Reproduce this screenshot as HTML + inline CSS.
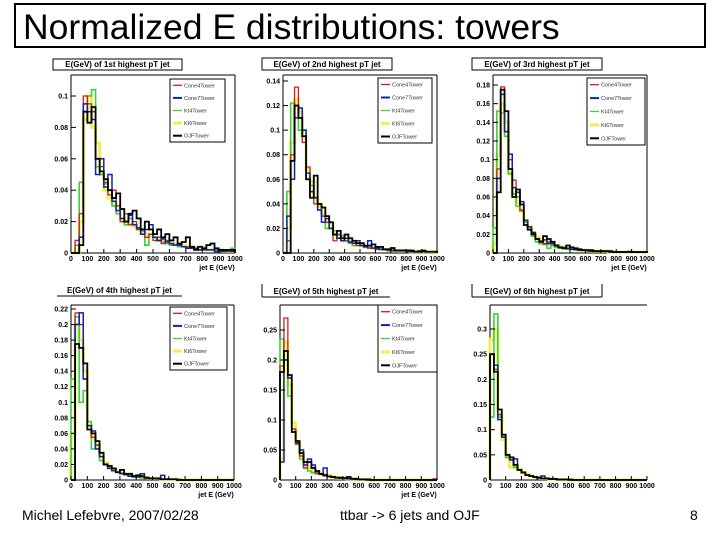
<!DOCTYPE html>
<html><head><meta charset="utf-8">
<style>
body{margin:0;background:#fff;}
#wrap{position:relative;width:720px;height:540px;overflow:hidden;font-family:"Liberation Sans",Arial,sans-serif;}
.foot{position:absolute;font-size:14px;color:#000;}
</style></head>
<body>
<div id="wrap">
<div style="position:absolute;left:14px;top:3px;width:692px;height:45px;border:2px solid #000;font-size:35.5px;line-height:45px;padding-left:7px;box-sizing:border-box;white-space:nowrap;">Normalized E distributions: towers</div>
<svg id="charts" width="720" height="540" style="position:absolute;left:0;top:0"></svg>
<div class="foot" style="left:22px;top:507px;">Michel Lefebvre, 2007/02/28</div>
<div class="foot" style="left:340px;top:507px;">ttbar -&gt; 6 jets and OJF</div>
<div class="foot" style="left:690px;top:507px;">8</div>
</div>
<script>
const seriesNames = ["Cone4Tower","Cone7Tower","Kt4Tower","Kt6Tower","OJFTower"];
const panelTitles = ["E(GeV) of 1st highest pT jet","E(GeV) of 2nd highest pT jet","E(GeV) of 3rd highest pT jet","E(GeV) of 4th highest pT jet","E(GeV) of 5th highest pT jet","E(GeV) of 6th highest pT jet"];
const xTickLabels = [0,100,200,300,400,500,600,700,800,900,1000];
const binWidthGeV = 25;
const yTicks1 = [0,0.02,0.04,0.06,0.08,0.1];
const yTicks2 = [0,0.02,0.04,0.06,0.08,0.1,0.12,0.14];
const yTicks3 = [0,0.02,0.04,0.06,0.08,0.1,0.12,0.14,0.16,0.18];
const yTicks4 = [0,0.02,0.04,0.06,0.08,0.1,0.12,0.14,0.16,0.18,0.2,0.22];
const yTicks5 = [0,0.05,0.1,0.15,0.2,0.25];
const yTicks6 = [0,0.05,0.1,0.15,0.2,0.25,0.3];

const p1Red=[0,0.008,0.025,0.1,0.095,0.09,0.06,0.055,0.045,0.037,0.04,0.03,0.02,0.025,0.018,0.02,0.015,0.012,0.01,0.012,0.008,0.01,0.006,0.008,0.006,0.005,0.005,0.004,0.004,0.003,0.003,0.002,0.002,0.002,0.002,0.001,0.001,0.001,0.001,0.001];
const p1Blue=[0,0,0.01,0.095,0.09,0.085,0.05,0.06,0.042,0.05,0.033,0.027,0.022,0.02,0.024,0.018,0.016,0.012,0.015,0.018,0.01,0.008,0.009,0.007,0.006,0.005,0.005,0.004,0.003,0.003,0.003,0.002,0.002,0.002,0.002,0.001,0.001,0.001,0.002,0.001];
const p1Green=[0,0.005,0.045,0.095,0.1,0.104,0.055,0.05,0.044,0.04,0.03,0.025,0.02,0.018,0.022,0.018,0.016,0.014,0.005,0.012,0.01,0.008,0.007,0.006,0.005,0.005,0.004,0.004,0.003,0.003,0.003,0.002,0.002,0.002,0.002,0.002,0.001,0.001,0.001,0.003];
const p1Yellow=[0,0,0.02,0.085,0.1,0.08,0.07,0.05,0.04,0.035,0.032,0.03,0.022,0.02,0.018,0.017,0.015,0.013,0.012,0.011,0.01,0.008,0.008,0.007,0.006,0.006,0.005,0.005,0.004,0.004,0.003,0.003,0.003,0.002,0.002,0.002,0.002,0.001,0.001,0.001];
const p1Black=[0,0,0.005,0.09,0.083,0.093,0.06,0.052,0.047,0.04,0.035,0.038,0.028,0.02,0.025,0.027,0.022,0.015,0.02,0.015,0.012,0.015,0.01,0.012,0.008,0.01,0.006,0.007,0.01,0.004,0.002,0.004,0.003,0.005,0.006,0.003,0.002,0.002,0.002,0.002];

const p2Red=[0,0.01,0.08,0.135,0.11,0.09,0.07,0.05,0.04,0.035,0.03,0.025,0.02,0.01,0.015,0.012,0.01,0.009,0.008,0.006,0.006,0.005,0.004,0.004,0.003,0.003,0.003,0.002,0.002,0.002,0.002,0.002,0.001,0.001,0.001,0.002,0.001,0.001,0.001,0.001];
const p2Blue=[0,0.03,0.06,0.11,0.118,0.1,0.065,0.05,0.045,0.035,0.025,0.028,0.02,0.015,0.012,0.01,0.012,0.009,0.008,0.01,0.006,0.005,0.01,0.004,0.004,0.003,0.003,0.003,0.002,0.002,0.002,0.002,0.002,0.001,0.001,0.001,0.001,0.001,0.001,0.001];
const p2Green=[0,0.05,0.122,0.12,0.1,0.1,0.06,0.055,0.045,0.04,0.03,0.02,0.025,0.018,0.012,0.014,0.01,0.008,0.006,0.008,0.006,0.005,0.004,0.004,0.003,0.003,0.003,0.002,0.002,0.002,0.002,0.002,0.001,0.001,0.001,0.001,0.001,0.001,0.001,0.001];
const p2Yellow=[0,0.02,0.09,0.125,0.115,0.095,0.068,0.058,0.045,0.038,0.032,0.025,0.02,0.016,0.013,0.012,0.01,0.009,0.008,0.007,0.006,0.005,0.005,0.004,0.004,0.003,0.003,0.003,0.002,0.002,0.002,0.002,0.002,0.001,0.001,0.001,0.001,0.001,0.001,0.001];
const p2Black=[0,0,0.075,0.12,0.11,0.095,0.06,0.045,0.063,0.04,0.037,0.03,0.025,0.015,0.018,0.012,0.015,0.012,0.01,0.008,0.008,0.006,0.006,0.007,0.005,0.005,0.003,0.003,0.004,0.002,0.002,0.002,0.002,0.002,0.001,0.001,0.002,0.001,0.001,0.001];

const p3Red=[0,0.09,0.178,0.13,0.1,0.078,0.06,0.046,0.035,0.025,0.02,0.015,0.013,0.01,0.012,0.01,0.008,0.006,0.006,0.005,0.004,0.004,0.003,0.003,0.003,0.002,0.002,0.002,0.002,0.002,0.001,0.001,0.001,0.001,0.001,0.001,0.001,0.001,0.001,0.001];
const p3Blue=[0,0.08,0.17,0.13,0.106,0.07,0.065,0.055,0.035,0.028,0.022,0.015,0.012,0.014,0.01,0.01,0.008,0.006,0.005,0.005,0.004,0.004,0.003,0.003,0.003,0.002,0.002,0.002,0.002,0.002,0.001,0.001,0.001,0.001,0.001,0.001,0.001,0.001,0.001,0.001];
const p3Green=[0.027,0.152,0.15,0.125,0.085,0.063,0.05,0.045,0.033,0.025,0.018,0.012,0.01,0.009,0.005,0.008,0.006,0.005,0.005,0.004,0.004,0.003,0.003,0.003,0.002,0.002,0.002,0.002,0.002,0.002,0.002,0.001,0.001,0.001,0.001,0.002,0.001,0.001,0.001,0.001];
const p3Yellow=[0.01,0.105,0.16,0.14,0.085,0.065,0.055,0.045,0.035,0.028,0.022,0.017,0.013,0.012,0.01,0.009,0.008,0.007,0.006,0.005,0.004,0.004,0.003,0.003,0.003,0.002,0.002,0.002,0.002,0.002,0.001,0.001,0.001,0.001,0.001,0.001,0.001,0.001,0.001,0.001];
const p3Black=[0,0.065,0.175,0.152,0.09,0.06,0.068,0.052,0.03,0.025,0.02,0.015,0.012,0.018,0.015,0.012,0.008,0.006,0.005,0.008,0.006,0.005,0.004,0.003,0.003,0.003,0.002,0.002,0.002,0.002,0.002,0.001,0.001,0.001,0.001,0.001,0.001,0.001,0.001,0.001];

const p4Red=[0,0.215,0.2,0.13,0.07,0.055,0.045,0.035,0.02,0.015,0.012,0.01,0.008,0.007,0.005,0.004,0.004,0.005,0.003,0.002,0.002,0.002,0.001,0.001,0.001,0.001,0.001,0,0,0,0,0,0,0,0,0,0,0,0,0];
const p4Blue=[0,0.2,0.215,0.13,0.07,0.063,0.04,0.03,0.02,0.015,0.012,0.01,0.008,0.007,0.005,0.004,0.004,0.008,0.003,0.002,0.002,0.002,0.006,0.001,0.001,0.001,0,0,0,0,0,0,0,0,0,0,0,0,0,0];
const p4Green=[0.13,0.21,0.1,0.115,0.075,0.04,0.045,0.025,0.02,0.015,0.012,0.01,0.009,0.007,0.006,0.005,0.004,0.003,0.002,0.002,0.002,0.001,0.001,0.001,0.001,0.001,0,0,0,0,0,0,0,0,0,0,0,0,0,0];
const p4Yellow=[0.06,0.2,0.18,0.14,0.07,0.055,0.045,0.03,0.022,0.018,0.014,0.011,0.009,0.007,0.006,0.005,0.004,0.003,0.003,0.002,0.002,0.002,0.001,0.001,0.001,0.001,0,0,0,0,0,0,0,0,0,0,0,0,0,0];
const p4Black=[0,0.175,0.17,0.15,0.065,0.06,0.05,0.035,0.02,0.018,0.015,0.01,0.013,0.008,0.008,0.005,0.006,0.005,0.003,0.002,0.002,0.002,0.001,0.001,0.001,0.001,0,0,0,0,0,0,0,0,0,0,0,0,0,0];

const p5Red=[0.19,0.27,0.17,0.085,0.06,0.04,0.02,0.03,0.02,0.012,0.01,0.007,0.006,0.005,0.004,0.003,0.003,0.002,0.002,0.001,0.001,0.001,0,0,0,0,0,0,0,0,0,0,0,0,0,0,0,0,0,0.002];
const p5Blue=[0.03,0.2,0.17,0.08,0.062,0.05,0.025,0.035,0.025,0.015,0.01,0.02,0.006,0.005,0.004,0.003,0.003,0.002,0.002,0.001,0.001,0.001,0,0,0,0,0,0,0,0,0,0,0,0,0,0,0,0,0,0];
const p5Green=[0.235,0.2,0.14,0.085,0.06,0.035,0.02,0.015,0.012,0.01,0.01,0.008,0.006,0.005,0.004,0.003,0.003,0.002,0.002,0.001,0.001,0.001,0,0,0,0,0,0,0,0,0,0,0,0,0,0,0,0,0,0];
const p5Yellow=[0.035,0.23,0.16,0.095,0.06,0.04,0.025,0.02,0.015,0.012,0.01,0.009,0.007,0.005,0.004,0.003,0.003,0.002,0.002,0.001,0.001,0.001,0.001,0,0,0,0,0,0,0,0,0,0,0,0,0,0,0,0,0];
const p5Black=[0.18,0.215,0.175,0.08,0.065,0.045,0.03,0.03,0.02,0.015,0.01,0.008,0.006,0.005,0.004,0.004,0.003,0.005,0.002,0.002,0.001,0.001,0.001,0,0,0,0,0,0,0,0,0,0,0,0,0,0,0,0,0];

const p6Red=[0.25,0.22,0.13,0.085,0.05,0.04,0.03,0.02,0.015,0.01,0.008,0.006,0.004,0.003,0.003,0.002,0.002,0.001,0.001,0.001,0,0,0,0,0,0,0,0,0,0,0,0,0,0,0,0,0,0,0,0];
const p6Blue=[0.25,0.228,0.12,0.085,0.05,0.04,0.042,0.02,0.015,0.01,0.008,0.006,0.004,0.008,0.003,0.002,0.002,0.001,0.001,0.001,0,0,0,0,0,0,0,0,0,0,0,0,0,0,0,0,0,0,0,0];
const p6Green=[0.125,0.33,0.125,0.085,0.045,0.04,0.025,0.02,0.015,0.01,0.008,0.006,0.004,0.003,0.003,0.002,0.002,0.001,0.001,0.001,0,0,0,0,0,0,0,0,0,0,0,0,0,0,0,0,0,0,0,0];
const p6Yellow=[0.28,0.3,0.13,0.08,0.045,0.025,0.03,0.022,0.015,0.01,0.008,0.006,0.004,0.003,0.003,0.002,0.002,0.001,0.001,0.001,0,0,0,0,0,0,0,0,0,0,0,0,0,0,0,0,0,0,0,0];
const p6Black=[0.25,0.215,0.14,0.09,0.05,0.045,0.03,0.02,0.015,0.01,0.008,0.006,0.005,0.003,0.003,0.002,0.002,0.001,0.001,0.001,0.001,0,0,0,0,0,0,0,0,0,0,0,0,0,0,0,0,0,0,0];

const NS="http://www.w3.org/2000/svg";
const svg=document.getElementById('charts');
function mk(tag,attrs,parent){const e=document.createElementNS(NS,tag);for(const k in attrs)e.setAttribute(k,attrs[k]);(parent||svg).appendChild(e);return e;}

const panels=[
 {x0:71,x1:235,y0:253,yt:75,tv:0.1,tp:96,ticks:yTicks1,title:[53,59,182,70],tstyle:'box',leg:[170,79,225,142],xl:true,data:[p1Yellow,p1Green,p1Red,p1Blue,p1Black]},
 {x0:283,x1:437,y0:253,yt:75,tv:0.14,tp:81,ticks:yTicks2,title:[262,58,392,70],tstyle:'box',leg:[378,78,432,143],xl:true,data:[p2Yellow,p2Green,p2Red,p2Blue,p2Black]},
 {x0:493,x1:647,y0:253,yt:75,tv:0.18,tp:85,ticks:yTicks3,title:[472,58,602,70],tstyle:'box',leg:[587,78,645,145],xl:true,data:[p3Yellow,p3Green,p3Red,p3Blue,p3Black]},
 {x0:71,x1:234,y0:480,yt:305,tv:0.22,tp:309,ticks:yTicks4,title:[57,284,182,296],tstyle:'under',leg:[170,307,227,370],xl:true,data:[p4Yellow,p4Green,p4Red,p4Blue,p4Black]},
 {x0:280,x1:437,y0:480,yt:305,tv:0.25,tp:330,ticks:yTicks5,title:[262,284,390,297],tstyle:'lbot',leg:[378,305,437,372],xl:true,data:[p5Yellow,p5Green,p5Red,p5Blue,p5Black]},
 {x0:490,x1:647,y0:480,yt:305,tv:0.3,tp:329,ticks:yTicks6,title:[472,284,602,297],tstyle:'lrbot',leg:null,xl:false,data:[p6Yellow,p6Green,p6Red,p6Blue,p6Black]}
];
const drawOrderColors=["#f2ee50","#3ccf3c","#cc2020","#1020b0","#000"];
const drawOrderWidths=[3,1.6,1.3,1.5,1.8];
const legendColors=["#cc2020","#1020b0","#3ccf3c","#f2ee50","#000"];
const legendWidths=[1.3,2,1.3,3,2];

panels.forEach((p,pi)=>{
  const g=mk('g',{});
  
  
  const xs=v=>p.x0+(v/1000)*(p.x1-p.x0);
  const scale=(p.y0-p.tp)/p.tv;
  const ys=v=>p.y0-v*scale;
  const [tx0,ty0,tx1,ty1]=p.title;
  const tg=mk('g',{},g);
  
  
  if(p.tstyle==='box'){mk('rect',{x:tx0,y:ty0,width:tx1-tx0,height:ty1-ty0,fill:'#fff',stroke:'#000','stroke-width':1},tg);}
  else{
    mk('line',{x1:tx0,y1:ty1,x2:tx1,y2:ty1,stroke:'#000','stroke-width':1},tg);
    if(p.tstyle!=='under')mk('line',{x1:tx0,y1:ty0,x2:tx0,y2:ty1,stroke:'#000','stroke-width':1},tg);
    if(p.tstyle==='lrbot')mk('line',{x1:tx1,y1:ty0,x2:tx1,y2:ty1,stroke:'#000','stroke-width':1},tg);
  }
  const tt=mk('text',{x:(tx0+tx1)/2,y:ty1-3,'font-size':8,'font-weight':'bold','text-anchor':'middle','font-family':'Liberation Sans, sans-serif'},tg);
  tt.textContent=panelTitles[pi];
  const fr=mk('g',{},g);
  
  
  mk('line',{x1:p.x0,y1:p.yt,x2:p.x1,y2:p.yt,stroke:'#000','stroke-width':1},fr);
  mk('line',{x1:p.x0,y1:p.yt,x2:p.x0,y2:p.y0,stroke:'#000','stroke-width':1},fr);
  mk('line',{x1:p.x0,y1:p.y0,x2:p.x1,y2:p.y0,stroke:'#000','stroke-width':1},fr);
  if(pi!==5)mk('line',{x1:p.x1,y1:p.yt,x2:p.x1,y2:p.y0,stroke:'#000','stroke-width':1},fr);
  p.data.forEach((arr,si)=>{
    let d='M'+xs(0)+','+p.y0;
    arr.forEach((v,i)=>{const y=ys(v);d+=' L'+xs(i*binWidthGeV)+','+y+' L'+xs((i+1)*binWidthGeV)+','+y;});
    d+=' L'+xs(arr.length*binWidthGeV)+','+p.y0;
    const path=mk('path',{d:d,fill:'none',stroke:drawOrderColors[si],'stroke-width':drawOrderWidths[si]},g);
    
    
  });
  p.ticks.forEach(t=>{
    const y=ys(t);
    mk('line',{x1:p.x0,y1:y,x2:p.x0+5,y2:y,stroke:'#000','stroke-width':1},g);
    const lab=mk('text',{x:p.x0-3,y:y+2.5,'font-size':7,'font-weight':'bold','text-anchor':'end','font-family':'Liberation Sans, sans-serif'},g);
    
    
    lab.textContent=String(t);
  });
  xTickLabels.forEach(t=>{
    const x=xs(t);
    mk('line',{x1:x,y1:p.y0,x2:x,y2:p.y0-4,stroke:'#000','stroke-width':1},g);
    const lab=mk('text',{x:x,y:p.y0+8,'font-size':7,'font-weight':'bold','text-anchor':'middle','font-family':'Liberation Sans, sans-serif'},g);
    
    
    lab.textContent=String(t);
  });
  if(p.xl){
    const xl=mk('text',{x:p.x1-18,y:p.y0+17,'font-size':7,'font-weight':'bold','text-anchor':'middle','font-family':'Liberation Sans, sans-serif'},g);
    
    
    xl.textContent='jet E (GeV)';
  }
  if(p.leg){
    const [lx0,ly0,lx1,ly1]=p.leg;
    const lg=mk('g',{},g);
    
    
    mk('rect',{x:lx0,y:ly0,width:lx1-lx0,height:ly1-ly0,fill:'#fff',stroke:'#000','stroke-width':1},lg);
    const step=(ly1-ly0)/5;
    seriesNames.forEach((n,k)=>{
      const y=ly0+step*(k+0.5);
      const e=mk('g',{},lg);
      
      
      mk('line',{x1:lx0+3,y1:y,x2:lx0+12,y2:y,stroke:legendColors[k],'stroke-width':legendWidths[k]},e);
      const t=mk('text',{x:lx0+14,y:y+2,'font-size':5.5,'font-family':'Liberation Sans, sans-serif',fill:'#333'},e);
      t.textContent=n;
    });
  }
});
</script>
</body></html>
